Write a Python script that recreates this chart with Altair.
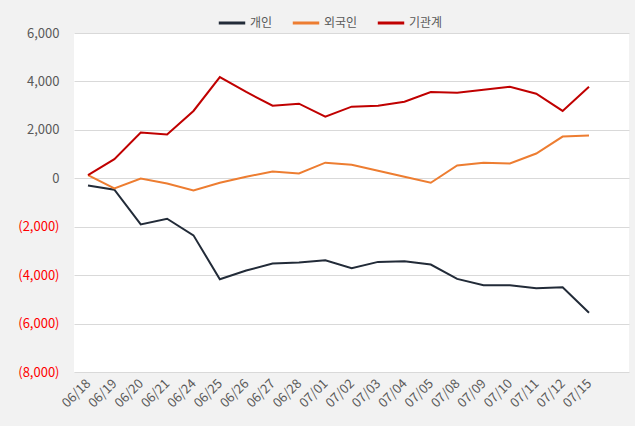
import altair as alt
import pandas as pd

dates = ["06/18", "06/19", "06/20", "06/21", "06/24", "06/25", "06/26", "06/27", "06/28",
         "07/01", "07/02", "07/03", "07/04", "07/05", "07/08", "07/09", "07/10", "07/11",
         "07/12", "07/15"]
individual = [-297, -474, -1903, -1669, -2357, -4169, -3811, -3523, -3481, -3390,
              -3716, -3453, -3428, -3564, -4153, -4417, -4417, -4540, -4499, -5554]
foreign = [130, -420, -10, -214, -502, -185, 62, 280, 198, 645,
           562, 310, 60, -185, 528, 639, 610, 1022, 1722, 1763]
institution = [130, 790, 1887, 1805, 2781, 4182, 3564, 3000, 3082, 2546,
               2958, 3000, 3164, 3564, 3535, 3660, 3782, 3494, 2781, 3782]

series_names = ["개인", "외국인", "기관계"]
series_colors = ["#222B38", "#ED7D31", "#C00000"]

rows = []
for name, vals in zip(series_names, [individual, foreign, institution]):
    for i, (d, v) in enumerate(zip(dates, vals)):
        rows.append({"idx": i, "date": d, "series": name, "value": v})
df = pd.DataFrame(rows)

FONT = "Noto Sans CJK KR"
label_color = {"condition": {"test": "datum.value < 0", "value": "#FF0000"}, "value": "#595959"}
date_js = "[" + ",".join("'" + d + "'" for d in dates) + "]"

chart = alt.Chart(df).mark_line(strokeWidth=2).encode(
    x=alt.X("idx:Q", title=None,
            scale=alt.Scale(domain=[-0.531, 20.517], nice=False, zero=False),
            axis=alt.Axis(values=list(range(len(dates))),
                          labelExpr=date_js + "[datum.value]",
                          labelAngle=-45, labelAlign="right", labelBaseline="middle",
                          labelColor="#595959", labelFontSize=13, labelFont=FONT,
                          labelFlush=False, labelOverlap=False,
                          ticks=False, domain=False, grid=False, labelPadding=9)),
    y=alt.Y("value:Q", title=None,
            scale=alt.Scale(domain=[-8000, 6000], nice=False),
            axis=alt.Axis(values=list(range(-8000, 6001, 2000)),
                          labelExpr="datum.value < 0 ? '(' + format(-datum.value, ',') + ')' : format(datum.value, ',')",
                          labelColor=label_color, labelFontSize=13, labelFont=FONT,
                          ticks=False, domain=False, grid=True, gridColor="#D9D9D9",
                          labelPadding=15)),
    color=alt.Color("series:N", title=None,
                    scale=alt.Scale(domain=series_names, range=series_colors),
                    legend=alt.Legend(orient="none", legendX=143, legendY=-25,
                                      direction="horizontal", symbolType="stroke",
                                      symbolStrokeWidth=3, symbolSize=700,
                                      labelFont=FONT, labelFontSize=12,
                                      labelColor="#595959", labelOffset=3,
                                      columnPadding=13)),
    order=alt.Order("idx:Q")
).properties(
    width=555, height=339,
    background="#F2F2F2",
    padding={"left": 74, "top": 33, "right": 6, "bottom": 54},
    autosize=alt.AutoSizeParams(type="none")
).configure_view(fill="white", stroke=None)

chart.save("out.html", embed_options={"renderer": "svg", "actions": False})
